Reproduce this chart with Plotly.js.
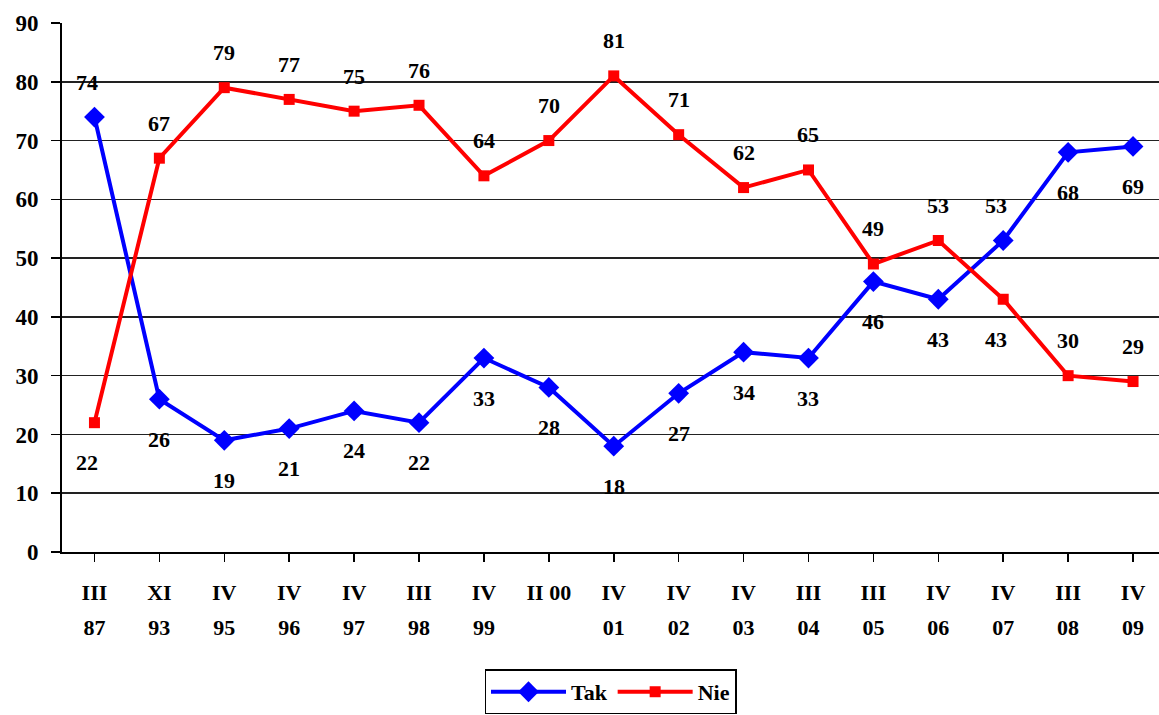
<!DOCTYPE html>
<html>
<head>
<meta charset="utf-8">
<script src="https://cdn.plot.ly/plotly-3.0.1.min.js"></script>
<style>html,body{margin:0;padding:0;background:#fff;}#chart{width:1159px;height:715px;}</style>
</head>
<body>
<div id="chart"></div>
<script>
var periods = ["III", "XI", "IV", "IV", "IV", "III", "IV", "II 00", "IV", "IV", "IV", "III", "III", "IV", "IV", "III", "IV"];
var years = ["87", "93", "95", "96", "97", "98", "99", "", "01", "02", "03", "04", "05", "06", "07", "08", "09"];
var tak = [74, 26, 19, 21, 24, 22, 33, 28, 18, 27, 34, 33, 46, 43, 53, 68, 69];
var nie = [22, 67, 79, 77, 75, 76, 64, 70, 81, 71, 62, 65, 49, 53, 43, 30, 29];
var takLabelSide = ["a","b","b","b","b","b","b","b","b","b","b","b","b","b","a","b","b"];
var nieLabelSide = ["b","a","a","a","a","a","a","a","a","a","a","a","a","a","b","a","a"];
var yTicks = [0, 10, 20, 30, 40, 50, 60, 70, 80, 90];

var idx = periods.map(function(_, i){ return i; });
var FONT = "Liberation Serif";

var traces = [
  {x: idx, y: tak, name: "Tak", type: "scatter", mode: "lines+markers",
   line: {color: "#0000FF", width: 4}, marker: {symbol: "diamond", size: 16, color: "#0000FF"}},
  {x: idx, y: nie, name: "Nie", type: "scatter", mode: "lines+markers",
   line: {color: "#FF0000", width: 4}, marker: {symbol: "square", size: 11, color: "#FF0000"}},
  {x: idx, y: tak, xaxis: "x2", yaxis: "y", type: "scatter", mode: "none", showlegend: false, hoverinfo: "skip"}
];

var annotations = [];
function addLabels(vals, sides){
  vals.forEach(function(v, i){
    var above = sides[i] === "a";
    annotations.push({x: i, y: v, xref: "x", yref: "y", text: "<b>" + v + "</b>", showarrow: false,
      yshift: above ? 35 : -40,
      xshift: (i === 0 || i === 14) ? -7 : 0,
      font: {family: FONT, size: 22, color: "#000"}});
  });
}
addLabels(tak, takLabelSide);
addLabels(nie, nieLabelSide);

var layout = {
  width: 1159, height: 715,
  margin: {l: 62, r: 0, t: 23, b: 161},
  paper_bgcolor: "#fff", plot_bgcolor: "#fff",
  font: {family: FONT, color: "#000"},
  showlegend: true,
  legend: {orientation: "h", x: 0.5, xanchor: "center", y: -0.222, yanchor: "top",
    bordercolor: "#000", borderwidth: 1.5, itemwidth: 75,
    font: {family: FONT, size: 22, color: "#000", weight: "bold"}},
  xaxis: {
    range: [-0.5, 16.4], tickmode: "array", tickvals: idx, ticktext: periods.map(function(s){ return "<b>" + s + "</b>"; }),
    tickson: "boundaries", ticks: "outside", ticklen: 8, tickwidth: 1.5, tickcolor: "#000",
    showline: true, linecolor: "#000", linewidth: 2, showgrid: false, zeroline: false,
    tickfont: {family: FONT, size: 22, color: "#000"},
    ticklabelstandoff: 12, fixedrange: true
  },
  xaxis2: {
    overlaying: "x", side: "bottom", anchor: "y",
    range: [-0.5, 16.4], tickmode: "array", tickvals: idx, ticktext: years.map(function(s){ return s ? "<b>" + s + "</b>" : ""; }),
    ticks: "", showline: false, showgrid: false, zeroline: false,
    tickfont: {family: FONT, size: 22, color: "#000"},
    ticklabelstandoff: 60
  },
  yaxis: {
    range: [0, 90], tickmode: "array", tickvals: yTicks, ticktext: yTicks.map(function(v){ return "<b>" + v + "</b>"; }),
    ticks: "outside", ticklen: 9, tickwidth: 1.5, tickcolor: "#000",
    showline: true, linecolor: "#000", linewidth: 2,
    showgrid: true, gridcolor: "#222", gridwidth: 1.5, zeroline: false,
    tickfont: {family: FONT, size: 23, color: "#000"},
    ticklabelstandoff: 8
  },
  annotations: annotations
};

Plotly.newPlot("chart", traces, layout, {displayModeBar: false, staticPlot: true});
</script>
</body>
</html>
